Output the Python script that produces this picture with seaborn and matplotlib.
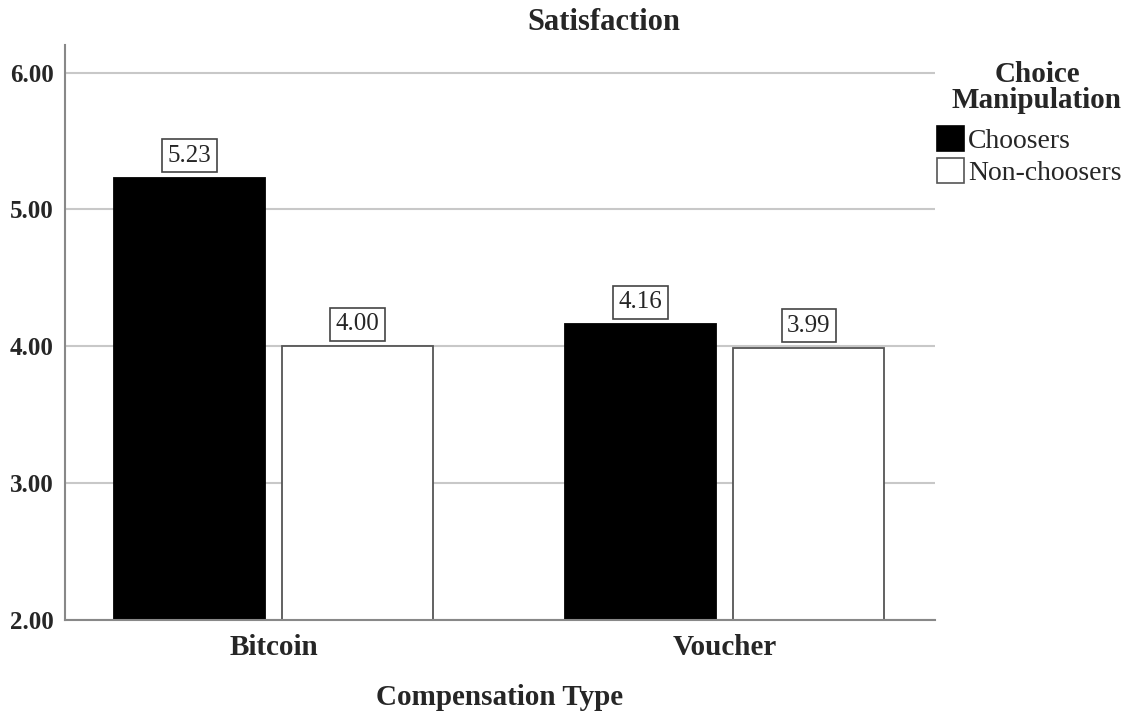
import matplotlib
matplotlib.use("Agg")
import matplotlib.pyplot as plt
from matplotlib.patches import Patch
import seaborn as sns
import pandas as pd

# ── Data ──────────────────────────────────────────────────────────────
compensation = ["Bitcoin", "Bitcoin", "Voucher", "Voucher"]
choice_group = ["Choosers", "Non-choosers", "Choosers", "Non-choosers"]
satisfaction = [5.23, 4.00, 4.16, 3.99]
y_ticks = [2.0, 3.0, 4.0, 5.0, 6.0]

df = pd.DataFrame({"Compensation Type": compensation,
                   "Choice": choice_group,
                   "Satisfaction": satisfaction})

# ── Style ─────────────────────────────────────────────────────────────
sns.set_style("white")
plt.rcParams["font.family"] = ["Liberation Serif", "DejaVu Serif"]

fig = plt.figure(figsize=(11.35, 7.18), dpi=100)
ax = fig.add_axes([0.0573, 0.1365, 0.7665, 0.8005])

sns.barplot(data=df, x="Compensation Type", y="Satisfaction", hue="Choice",
            palette={"Choosers": "black", "Non-choosers": "white"},
            width=0.745, gap=0.1, ax=ax, legend=False, errorbar=None)

for bar, grp in zip(ax.patches, ["Choosers", "Choosers", "Non-choosers", "Non-choosers"]):
    bar.set_edgecolor("black" if grp == "Choosers" else "#555555")
    bar.set_linewidth(1.3)

# value labels in boxes
for bar in ax.patches:
    h = bar.get_height()
    if h <= 0:
        continue
    ax.annotate(f"{h:.2f}", xy=(bar.get_x() + bar.get_width() / 2, h),
                xytext=(0, 8), textcoords="offset points",
                ha="center", va="bottom", fontsize=18,
                bbox=dict(boxstyle="square,pad=0.22", fc="white",
                          ec="#444444", lw=1.2))

ax.set_ylim(2.0, 6.2)
ax.set_xlim(-0.463, 1.466)
ax.set_yticks(y_ticks)
ax.set_yticklabels([f"{v:.2f}" for v in y_ticks], fontsize=18, fontweight="bold")
ax.tick_params(axis="x", labelsize=21, length=0, pad=10)
for lbl in ax.get_xticklabels():
    lbl.set_fontweight("bold")
ax.tick_params(axis="y", length=0, pad=8)

ax.grid(axis="y", color="#c8c8c8", lw=1.5)
ax.set_axisbelow(True)
for side in ["top", "right"]:
    ax.spines[side].set_visible(False)
for side in ["left", "bottom"]:
    ax.spines[side].set_color("#888888")
    ax.spines[side].set_linewidth(1.5)

ax.set_ylabel("")
ax.set_xlabel("Compensation Type", fontsize=21, fontweight="bold", labelpad=17)
fig.text(0.532, 0.968, "Satisfaction", ha="center", va="center",
         fontsize=22, fontweight="bold")

# legend (title drawn separately for tighter control of spacing)
fig.text(1037 / 1135, 1 - 61 / 718, "Choice\nManipulation", ha="center",
         va="top", fontsize=21, fontweight="bold", multialignment="center",
         linespacing=0.95)
handles = [Patch(fc="black", ec="black", lw=1.2, label="Choosers"),
           Patch(fc="white", ec="#555555", lw=1.2, label="Non-choosers")]
leg = fig.legend(handles=handles, loc="upper left",
                 bbox_to_anchor=(0.8256, 1 - 126 / 718),
                 frameon=False, fontsize=20, handlelength=0.97,
                 handleheight=1.0, handletextpad=0.15, labelspacing=0.15,
                 borderaxespad=0, borderpad=0)

fig.savefig("out.png", dpi=100)
